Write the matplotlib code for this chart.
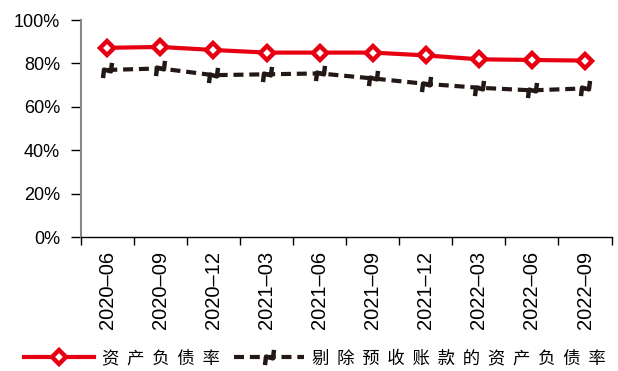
import matplotlib
matplotlib.use("Agg")
import matplotlib.pyplot as plt
from matplotlib.path import Path
from matplotlib.markers import MarkerStyle
from matplotlib.transforms import Affine2D
from matplotlib.ticker import PercentFormatter, FixedLocator

plt.rcParams['font.family'] = ['Liberation Sans', 'Noto Sans CJK SC', 'DejaVu Sans']

categories = ["2020–06", "2020–09", "2020–12", "2021–03", "2021–06",
              "2021–09", "2021–12", "2022–03", "2022–06", "2022–09"]
debt_ratio = [87.2, 87.6, 86.2, 85.0, 85.0, 85.0, 83.7, 81.9, 81.6, 81.3]
adj_ratio = [77.0, 77.7, 74.6, 75.0, 75.4, 73.1, 70.6, 68.8, 67.6, 68.5]
series_names = ["资产负债率", "剔除预收账款的资产负债率"]

def spaced(s):
    return "  ".join(list(s))

fig = plt.figure(figsize=(6.18, 3.71), dpi=100)
ax = fig.add_axes([0.1306, 0.361, 0.859, 0.585])

x = list(range(len(categories)))

zig = Path([(-1.0, -0.35), (-0.25, 0.35), (0.25, -0.35), (1.0, 0.35)],
           [Path.MOVETO, Path.LINETO, Path.LINETO, Path.LINETO])
zig_marker = MarkerStyle(zig, transform=Affine2D().rotate_deg(40))

ax.plot(x, debt_ratio, color='#e60012', lw=3, marker='D', ms=7,
        mfc='white', mec='#e60012', mew=3.2, label=spaced(series_names[0]), zorder=3)
ax.plot(x, adj_ratio, color='#231815', lw=3, ls=(0, (2.4, 1.4)), marker=zig_marker,
        ms=12, mfc='none', mec='#231815', mew=3.2, label=spaced(series_names[1]), zorder=3)

ax.set_xlim(-0.5, len(categories) - 0.5)
ax.set_ylim(0, 100)
ax.yaxis.set_major_locator(FixedLocator([0, 20, 40, 60, 80, 100]))
ax.yaxis.set_major_formatter(PercentFormatter(decimals=0))
ax.set_xticks(x)
ax.set_xticklabels(categories, rotation=90, fontsize=14.5)
ax.tick_params(axis='x', length=0, pad=10)
ax.set_xticks([i - 0.5 for i in range(len(categories) + 1)], minor=True)
ax.tick_params(axis='x', which='minor', length=6, width=1, color='black', direction='out')
ax.tick_params(axis='y', labelsize=13, length=7, width=1, color='black', direction='out', pad=8)

for s in ['top', 'right']:
    ax.spines[s].set_visible(False)
ax.spines['left'].set_color('#888888')
ax.spines['left'].set_linewidth(1.5)
ax.spines['bottom'].set_color('black')
ax.spines['bottom'].set_linewidth(1)

leg = fig.legend(loc='center', bbox_to_anchor=(0.51, 0.035), ncol=2, frameon=False,
                 handlelength=4.0, columnspacing=0.8, handletextpad=0.5,
                 prop={'family': ['Noto Sans CJK SC'], 'size': 12.5})

fig.savefig("out.png", dpi=100)
